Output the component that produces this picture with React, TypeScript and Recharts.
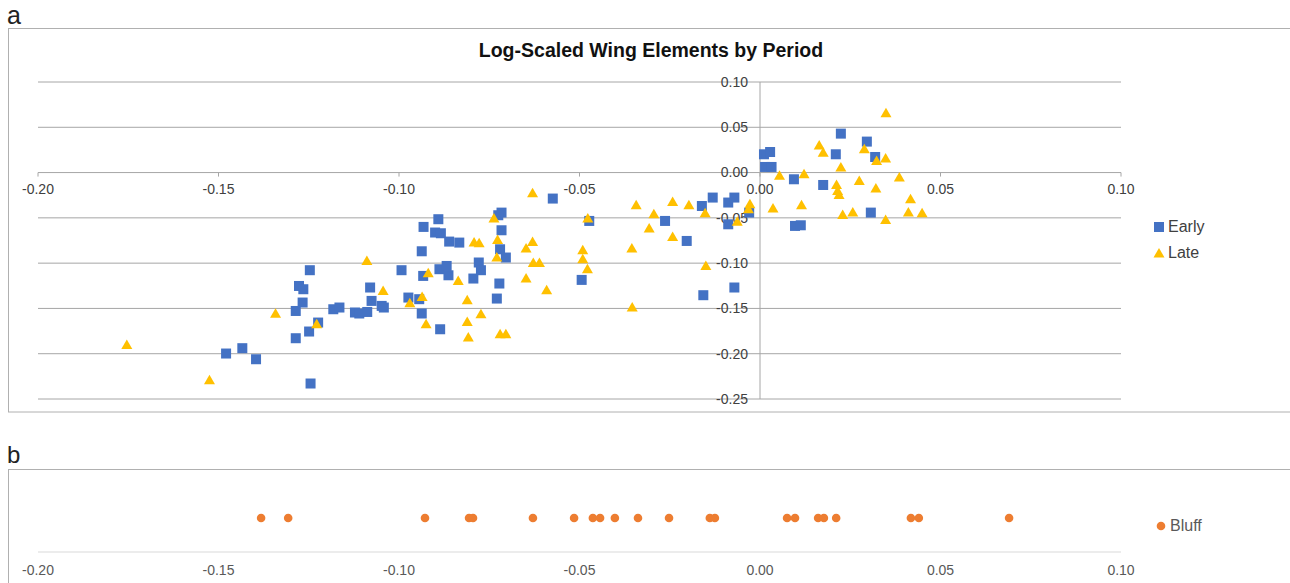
import React from 'react';
import { ScatterChart, Scatter, XAxis, YAxis, ReferenceLine, ReferenceDot, Legend } from 'recharts';

const FONT = '"Liberation Sans", Arial, Helvetica, sans-serif';

// Axis ticks
const xTicks = [-0.2, -0.15, -0.1, -0.05, 0, 0.05, 0.1];
const yTicks = [0.1, 0.05, 0, -0.05, -0.1, -0.15, -0.2, -0.25];

// Panel a: Early
const earlyX = [
  -0.1479, -0.1434, -0.1396, -0.1286, -0.1245, -0.1247, -0.1277, -0.1265, -0.1267, -0.1286,
  -0.1249, -0.1224, -0.1182, -0.1165, -0.1122, -0.1110, -0.1088, -0.1080, -0.1076, -0.1048,
  -0.1042, -0.0993, -0.0974, -0.0944, -0.0932, -0.0937, -0.0937, -0.0933, -0.0891, -0.0900,
  -0.0884, -0.0861, -0.0833, -0.0888, -0.0868, -0.0863, -0.0886, -0.0794, -0.0779, -0.0773,
  -0.0716, -0.0725, -0.0716, -0.0720, -0.0704, -0.0722, -0.0729, -0.0574, -0.0473, -0.0494,
  -0.0263, -0.0203, -0.0161, -0.0131, -0.0088, -0.0071, -0.0088, -0.0157, -0.0071, -0.0030,
  0.0011, 0.0028, 0.0014, 0.0032, 0.0094, 0.0175, 0.0097, 0.0113, 0.0224, 0.0210,
  0.0296, 0.0319, 0.0307,
];
const earlyY = [
  -0.1998, -0.1939, -0.2061, -0.1829, -0.2329, -0.1078, -0.1252, -0.1288, -0.1435, -0.1528,
  -0.1755, -0.1656, -0.1509, -0.1490, -0.1545, -0.1556, -0.1539, -0.1269, -0.1417, -0.1472,
  -0.1490, -0.1078, -0.1380, -0.1398, -0.0600, -0.0869, -0.1556, -0.1141, -0.0515, -0.0662,
  -0.0670, -0.0762, -0.0773, -0.1067, -0.1031, -0.1134, -0.1730, -0.1170, -0.0993, -0.1078,
  -0.0442, -0.0471, -0.0637, -0.0847, -0.0938, -0.1225, -0.1391, -0.0287, -0.0534, -0.1185,
  -0.0534, -0.0755, -0.0369, -0.0276, -0.0331, -0.0276, -0.0571, -0.1354, -0.1269, -0.0442,
  0.0202, 0.0227, 0.0062, 0.0062, -0.0074, -0.0137, -0.0589, -0.0582, 0.0430, 0.0202,
  0.0342, 0.0172, -0.0442,
];

// Panel a: Late
const lateX = [
  -0.1754, -0.1525, -0.1342, -0.1228, -0.1089, -0.1044, -0.0970, -0.0936, -0.0919, -0.0925,
  -0.0836, -0.0811, -0.0811, -0.0808, -0.0773, -0.0792, -0.0778, -0.0737, -0.0727, -0.0729,
  -0.0720, -0.0704, -0.0648, -0.0630, -0.0630, -0.0628, -0.0611, -0.0648, -0.0591, -0.0491,
  -0.0491, -0.0478, -0.0477, -0.0355, -0.0354, -0.0343, -0.0307, -0.0294, -0.0242, -0.0242,
  -0.0197, -0.0152, -0.0150, -0.0063, -0.0028, -0.0032, 0.0036, 0.0054, 0.0122, 0.0115,
  0.0164, 0.0175, 0.0224, 0.0212, 0.0215, 0.0219, 0.0229, 0.0257, 0.0275, 0.0289,
  0.0321, 0.0323, 0.0348, 0.0349, 0.0348, 0.0386, 0.0417, 0.0411, 0.0449,
];
const lateY = [
  -0.1903, -0.2293, -0.1560, -0.1674, -0.0976, -0.1307, -0.1442, -0.1373, -0.1112, -0.1674,
  -0.1196, -0.1409, -0.1649, -0.1821, -0.1564, -0.0773, -0.0780, -0.0508, -0.0744, -0.0939,
  -0.1784, -0.1784, -0.0838, -0.0766, -0.0228, -0.0999, -0.0999, -0.1170, -0.1299, -0.0857,
  -0.0957, -0.1067, -0.0508, -0.0839, -0.1490, -0.0361, -0.0618, -0.0460, -0.0324, -0.0710,
  -0.0361, -0.0449, -0.1031, -0.0543, -0.0350, -0.0406, -0.0398, -0.0035, -0.0019, -0.0361,
  0.0300, 0.0219, 0.0055, -0.0137, -0.0203, -0.0247, -0.0468, -0.0442, -0.0093, 0.0257,
  -0.0177, 0.0128, 0.0155, 0.0655, -0.0523, -0.0055, -0.0294, -0.0442, -0.0449,
];

// Panel b: Bluff (one-dimensional)
const bluffX = [
  -0.1382, -0.1307, -0.0928, -0.0806, -0.0795, -0.0629, -0.0515, -0.0463, -0.0443, -0.0402,
  -0.0338, -0.0252, -0.0139, -0.0125, 0.0075, 0.0097, 0.0161, 0.0177, 0.0211, 0.0418,
  0.0440, 0.0690,
];
const BLUFF_ROW = 0.5;

const early = earlyX.map((x, i) => ({ x, y: earlyY[i] }));
const late = lateX.map((x, i) => ({ x, y: lateY[i] }));
const bluff = bluffX.map((x) => ({ x, y: BLUFF_ROW }));

const BLUE = '#4472C4';
const GOLD = '#FFC000';
const ORANGE = '#ED7D31';
const GRID = '#a6a6a6';
const FRAME = '#b0b0b0';

const SquareShape = (p: any) => (
  <rect x={p.cx - 5} y={p.cy - 5} width={10} height={10} fill={BLUE} />
);
const TriangleShape = (p: any) => (
  <polygon
    points={`${p.cx},${p.cy - 5.5} ${p.cx + 5.5},${p.cy + 4} ${p.cx - 5.5},${p.cy + 4}`}
    fill={GOLD}
  />
);
const DotShape = (p: any) => <circle cx={p.cx} cy={p.cy} r={4.3} fill={ORANGE} />;

const fmt = (v: number) => v.toFixed(2);

const LegendIcon = ({ type, color }: { type: string; color: string }) => {
  if (type === 'square') return <rect x={1} y={1} width={10} height={10} fill={color} />;
  if (type === 'triangle') return <polygon points="6,1 11.5,10.5 0.5,10.5" fill={color} />;
  return <circle cx={6} cy={6} r={4.3} fill={color} />;
};

const makeLegend = (textColor: string, rowH: number) => (props: any) => {
  const payload = props.payload || [];
  return (
    <div style={{ fontFamily: FONT, fontSize: 16, color: textColor }}>
      {payload.map((p: any) => (
        <div key={p.value} style={{ display: 'flex', alignItems: 'center', height: rowH }}>
          <svg width={14} height={12} style={{ marginRight: 1 }}>
            <LegendIcon type={p.type} color={p.color} />
          </svg>
          <span>{p.value}</span>
        </div>
      ))}
    </div>
  );
};

const XLabel = (v: number) => (p: any) => (
  <g>
    <line x1={p.cx} y1={p.cy} x2={p.cx} y2={p.cy + 4} stroke={GRID} strokeWidth={1} />
    <text x={p.cx} y={p.cy + 17} dy="0.35em" textAnchor="middle" fontFamily={FONT} fontSize={14} fill="#404040">
      {fmt(v)}
    </text>
  </g>
);
const YLabel = (v: number) => (p: any) => (
  <text x={p.cx - 12} y={p.cy} dy="0.35em" textAnchor="end" fontFamily={FONT} fontSize={14} fill="#404040">
    {fmt(v)}
  </text>
);

export default function App() {
  return (
    <div style={{ position: 'absolute', left: 0, top: 0, width: 1290, height: 583, overflow: 'hidden', background: '#fff' }}>
      <svg width={1290} height={583} style={{ position: 'absolute', left: 0, top: 0 }}>
        <text x={7} y={23.5} fontFamily={FONT} fontSize={25} fill="#222">a</text>
        <rect x={8.5} y={28.5} width={1300} height={383.5} fill="none" stroke={FRAME} strokeWidth={1} />
        <text x={651} y={57} textAnchor="middle" fontFamily={FONT} fontSize={19.5} fontWeight="bold" fill="#111">
          Log-Scaled Wing Elements by Period
        </text>
        <text x={7} y={463} fontFamily={FONT} fontSize={24} fill="#222">b</text>
        <rect x={8.5} y={469.5} width={1300} height={200} fill="none" stroke={FRAME} strokeWidth={1} />
      </svg>

      <div style={{ position: 'absolute', left: 0, top: 0 }}>
        <ScatterChart width={1290} height={420} margin={{ top: 82, left: 38, right: 169, bottom: 21 }}>
          <XAxis type="number" dataKey="x" domain={[-0.2, 0.1]} ticks={xTicks} hide />
          <YAxis type="number" dataKey="y" domain={[-0.25, 0.1]} ticks={yTicks} hide />
          {yTicks.map((v) => (
            <ReferenceLine key={'g' + v} y={v} stroke={GRID} strokeWidth={1} ifOverflow="visible" />
          ))}
          <ReferenceLine x={0} stroke={GRID} strokeWidth={1} ifOverflow="visible" />
          {xTicks.map((v) => (
            <ReferenceDot key={'xl' + v} x={v} y={0} r={0} ifOverflow="visible" shape={XLabel(v)} />
          ))}
          {yTicks.map((v) => (
            <ReferenceDot key={'yl' + v} x={0} y={v} r={0} ifOverflow="visible" shape={YLabel(v)} />
          ))}
          <Legend
            layout="vertical"
            align="center"
            verticalAlign="middle"
            content={makeLegend('#404040', 26)}
            wrapperStyle={{ position: 'absolute', left: 1153, top: 214, width: 90, height: 52 }}
          />
          <Scatter name="Early" data={early} fill={BLUE} legendType="square" shape={SquareShape} isAnimationActive={false} />
          <Scatter name="Late" data={late} fill={GOLD} legendType="triangle" shape={TriangleShape} isAnimationActive={false} />
        </ScatterChart>
      </div>

      <div style={{ position: 'absolute', left: 0, top: 440 }}>
        <ScatterChart width={1290} height={143} margin={{ top: 44, left: 38, right: 169, bottom: 1 }}>
          <XAxis
            type="number"
            dataKey="x"
            domain={[-0.2, 0.1]}
            ticks={xTicks}
            tickFormatter={fmt}
            height={30}
            axisLine={{ stroke: '#d9d9d9' }}
            tickLine={false}
            tickSize={0}
            tickMargin={13}
            tick={{ fill: '#595959', fontSize: 14, fontFamily: FONT }}
            interval={0}
          />
          <YAxis type="number" dataKey="y" domain={[0, 1]} hide />
          <Legend
            layout="vertical"
            align="center"
            verticalAlign="middle"
            content={makeLegend('#595959', 20)}
            wrapperStyle={{ position: 'absolute', left: 1155, top: 76, width: 90, height: 20 }}
          />
          <Scatter name="Bluff" data={bluff} fill={ORANGE} legendType="circle" shape={DotShape} isAnimationActive={false} />
        </ScatterChart>
      </div>
    </div>
  );
}
